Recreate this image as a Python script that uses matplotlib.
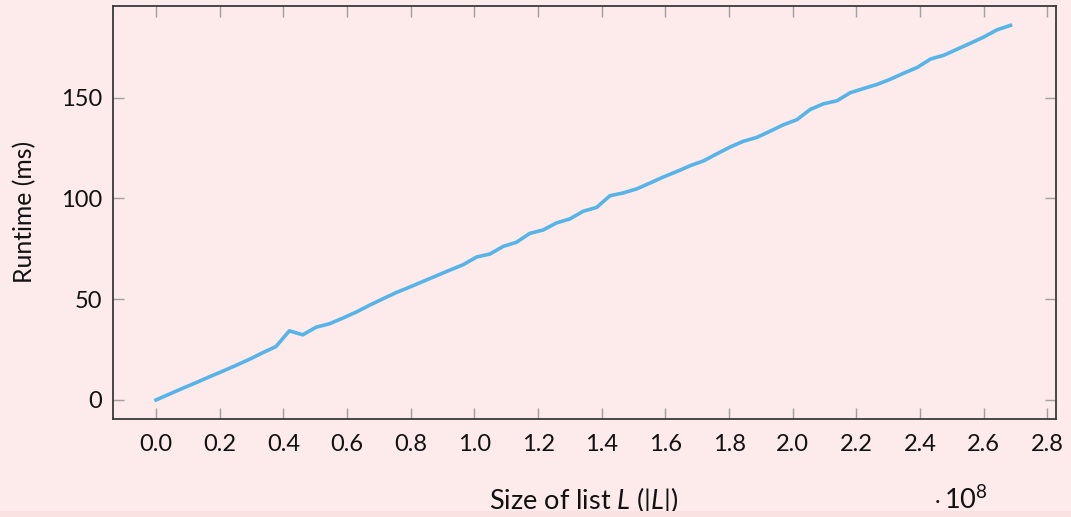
import matplotlib

matplotlib.use("Agg")
import matplotlib.pyplot as plt
from matplotlib.patches import Rectangle


# list size in units of 1e8
list_sizes = [
    0.000, 0.042, 0.084, 0.126, 0.168, 0.210, 0.252, 0.294, 0.336, 0.377,
    0.419, 0.461, 0.503, 0.545, 0.587, 0.629, 0.671, 0.713, 0.755, 0.797,
    0.839, 0.881, 0.923, 0.965, 1.007, 1.049, 1.091, 1.132, 1.174, 1.216,
    1.258, 1.300, 1.342, 1.384, 1.426, 1.468, 1.510, 1.552, 1.594, 1.636,
    1.678, 1.720, 1.762, 1.804, 1.845, 1.887, 1.929, 1.971, 2.013, 2.055,
    2.097, 2.139, 2.181, 2.223, 2.265, 2.307, 2.349, 2.391, 2.433, 2.475,
    2.517, 2.559, 2.600, 2.642, 2.684,
]

# runtime in ms
runtimes = [
    0.0, 2.9, 5.8, 8.6, 11.5, 14.3, 17.2, 20.2, 23.5, 26.5,
    34.3, 32.3, 36.1, 37.8, 40.6, 43.6, 47.0, 50.2, 53.3, 56.0,
    58.8, 61.6, 64.4, 67.1, 70.9, 72.4, 76.2, 78.2, 82.6, 84.3,
    87.8, 89.8, 93.6, 95.5, 101.3, 102.7, 104.7, 107.6, 110.6, 113.3,
    116.2, 118.6, 122.1, 125.5, 128.3, 130.2, 133.3, 136.5, 139.0, 144.1,
    146.9, 148.4, 152.4, 154.5, 156.5, 159.1, 162.1, 164.9, 169.1, 171.0,
    174.0, 177.0, 180.0, 183.6, 185.8,
]

x_ticks = [0.0, 0.2, 0.4, 0.6, 0.8, 1.0, 1.2, 1.4, 1.6, 1.8, 2.0, 2.2, 2.4, 2.6, 2.8]
y_ticks = [0, 50, 100, 150]

BG = "#fdeaea"
LINE = "#56b4e9"

plt.rcParams["font.family"] = ["Lato", "DejaVu Sans"]
plt.rcParams["mathtext.fontset"] = "custom"
plt.rcParams["mathtext.rm"] = "Lato"
plt.rcParams["mathtext.it"] = "Lato:italic"

fig = plt.figure(figsize=(10.71, 5.17), dpi=100, facecolor=BG)
# slightly darker strip along the bottom edge
fig.patches.append(Rectangle((0, 0), 1, 0.012, transform=fig.transFigure,
                             facecolor="#fbe2e2", edgecolor="none", zorder=0))

ax = fig.add_axes([0.1058, 0.1901, 0.8805, 0.7983])
ax.set_facecolor(BG)

ax.plot(list_sizes, runtimes, color=LINE, linewidth=2.6, solid_joinstyle="round")

ax.set_xlim(-0.134, 2.828)
ax.set_ylim(-9.3, 195.4)
ax.set_xticks(x_ticks)
ax.set_xticklabels([f"{t:.1f}" for t in x_ticks])
ax.set_yticks(y_ticks)

for side in ax.spines.values():
    side.set_color("#3a3a3a")
    side.set_linewidth(1.3)

ax.tick_params(axis="both", which="both", direction="in", length=8,
               width=1.0, color="#a0a0a0", labelsize=17, labelcolor="#111111",
               top=True, right=True)
ax.tick_params(axis="x", pad=11)
ax.tick_params(axis="y", pad=8)

ax.set_xlabel("Size of list $L$ ($|L|$)", fontsize=19.5, color="#111111", va="center")
ax.xaxis.set_label_coords(0.499, -0.197)
ax.set_ylabel("Runtime (ms)", fontsize=17.8, color="#111111", va="center")
ax.yaxis.set_label_coords(-0.0936, 0.5)

ax.text(0.898, -0.197, r"$\cdot\,10^{8}$", transform=ax.transAxes,
        fontsize=19.5, color="#111111", ha="center", va="center")

fig.savefig("out.png", dpi=100, facecolor=BG)
